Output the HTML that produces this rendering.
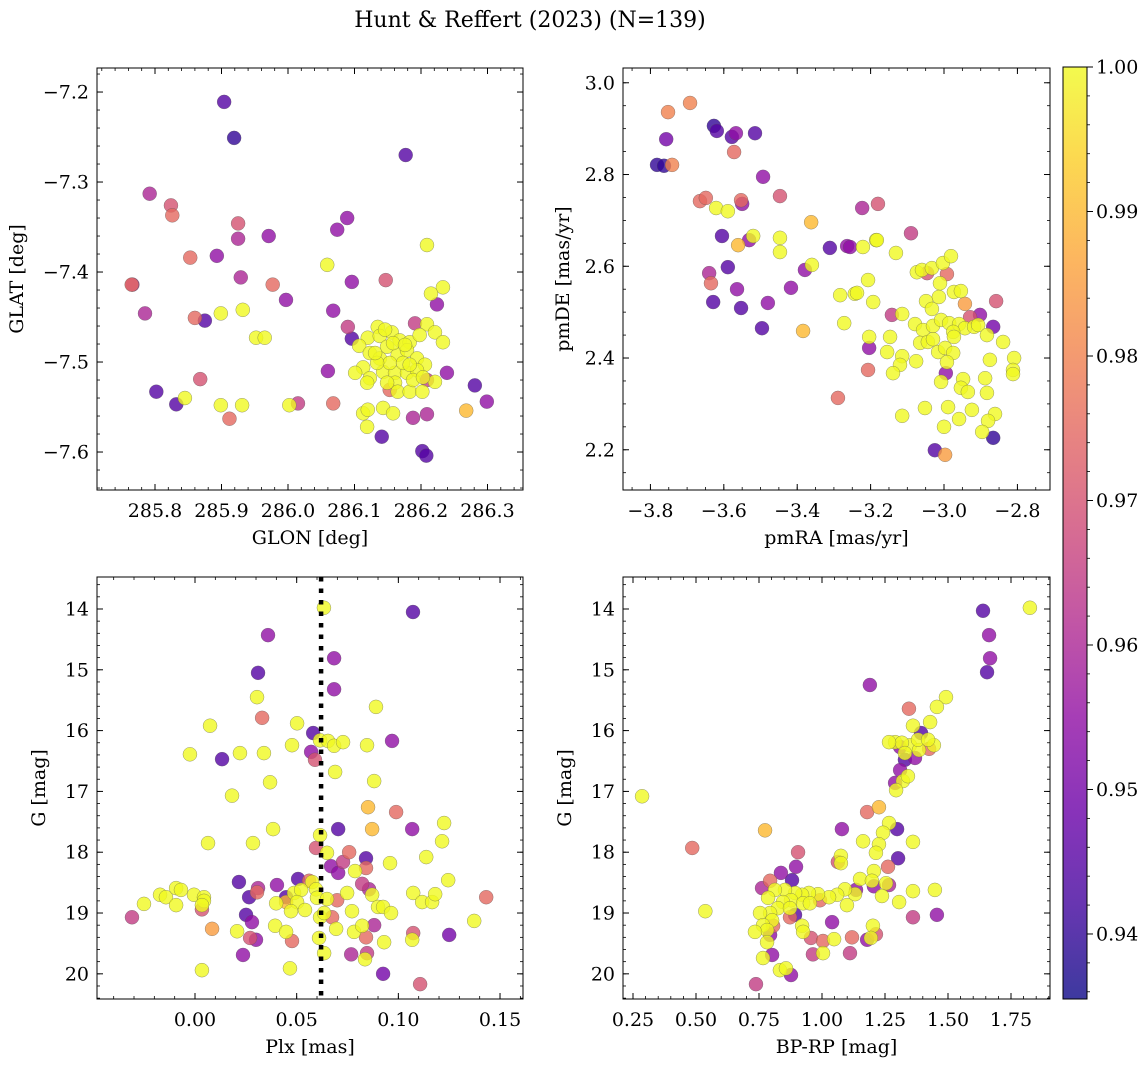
<!DOCTYPE html>
<html><head><meta charset="utf-8"><style>
html,body{margin:0;padding:0;background:#fff;}
svg{display:block;font-family:"DejaVu Serif","Liberation Serif",serif;}
</style></head><body>
<svg id="fig" width="1148" height="1067" viewBox="0 0 1148 1067" xmlns="http://www.w3.org/2000/svg">
<text x="530" y="27" font-size="22" text-anchor="middle">Hunt &amp; Reffert (2023) (N=139)</text>
</svg>
<script>
// ---------- data ----------
const p1Lon=[285.904,285.919,286.177,285.792,285.824,285.826,285.925,286.089,286.074,285.925,285.971,285.893,285.853,286.209,286.059,285.929,285.765,285.766,286.147,286.096,285.977,286.233,286.215,285.997,286.224,285.932,285.785,285.899,285.860,285.875,286.068,286.090,286.096,285.952,285.965,286.191,286.209,286.221,286.233,286.060,286.239,286.281,286.299,286.268,286.068,286.188,286.209,286.113,286.120,286.143,286.158,286.119,286.141,286.202,286.208,285.868,285.802,285.845,285.832,285.899,285.931,286.002,286.015,285.912,286.153,286.209,
286.135,286.156,286.120,286.138,286.168,286.183,286.198,286.107,286.123,286.149,286.165,286.179,286.194,286.206,286.113,286.101,286.123,286.119,286.143,286.161,286.179,286.194,286.138,286.153,286.173,286.161,286.149,286.165,286.183,286.202,286.188,286.221,286.134,286.158,286.176,286.131,286.183,286.203,286.146];
const p1Lat=[-7.211,-7.251,-7.270,-7.313,-7.326,-7.337,-7.346,-7.340,-7.353,-7.363,-7.360,-7.382,-7.384,-7.370,-7.392,-7.406,-7.414,-7.414,-7.409,-7.411,-7.414,-7.417,-7.424,-7.431,-7.436,-7.442,-7.446,-7.446,-7.451,-7.454,-7.443,-7.461,-7.474,-7.473,-7.473,-7.457,-7.458,-7.467,-7.478,-7.510,-7.512,-7.526,-7.544,-7.554,-7.546,-7.562,-7.558,-7.557,-7.553,-7.551,-7.557,-7.572,-7.583,-7.599,-7.604,-7.519,-7.533,-7.540,-7.547,-7.548,-7.548,-7.548,-7.546,-7.563,-7.531,-7.520,
-7.461,-7.467,-7.473,-7.471,-7.476,-7.478,-7.470,-7.482,-7.490,-7.483,-7.492,-7.487,-7.496,-7.503,-7.506,-7.512,-7.518,-7.523,-7.511,-7.512,-7.512,-7.509,-7.496,-7.501,-7.501,-7.523,-7.523,-7.533,-7.533,-7.533,-7.520,-7.522,-7.501,-7.479,-7.481,-7.490,-7.503,-7.517,-7.464];
const p1Prob=[.945,.94,.945,.96,.97,.975,.97,.955,.955,.96,.955,.955,.975,1,1,.96,.975,.96,.97,.955,.975,1,1,.955,.955,1,.96,1,.975,.945,.955,.965,.945,1,1,.965,1,1,1,.955,.955,.945,.955,.99,.975,.96,.96,1,1,1,1,1,.945,.945,.945,.97,.945,1,.945,1,1,1,.965,.975,.975,.965,
1,1,1,1,1,1,1,1,1,1,1,1,1,1,1,1,1,1,1,1,1,1,1,1,1,1,1,1,1,1,1,1,1,1,1,1,1,1,1];

const p2RA=[-3.692,-3.752,-3.757,-3.741,-3.782,-3.763,-3.627,-3.619,-3.567,-3.578,-3.515,-3.572,-3.493,-3.665,-3.649,-3.621,-3.589,-3.553,-3.550,-3.447,-3.223,-3.180,-3.362,-3.605,-3.520,-3.531,-3.447,-3.447,-3.311,-3.264,-3.185,-3.561,-3.640,-3.635,-3.589,-3.360,-3.379,-3.629,-3.564,-3.417,-3.243,-3.283,-3.480,-3.553,-3.496,-3.384,-3.272,-3.289,
-3.256,-3.221,-3.183,-3.090,-3.131,-3.207,-3.237,-3.193,-3.142,-3.114,-3.204,-3.204,-3.207,-3.147,-3.155,-3.114,-3.120,-3.139,-3.076,-3.114,-3.052,-3.074,-3.060,-3.046,-3.033,-3.003,-2.981,-2.992,-3.011,-3.014,-3.049,-3.033,-2.973,-2.954,-2.943,-2.858,-2.902,-2.929,-3.079,-3.057,-3.030,-3.008,-2.986,-2.959,-2.943,-2.918,-2.907,-2.975,-2.973,-3.065,-3.044,-3.030,-2.866,-2.883,-2.839,-3.016,-2.997,-2.975,-2.992,-2.995,-3.008,-2.875,-2.809,-2.812,-2.812,-2.948,-2.954,-2.935,-2.888,-2.883,-2.989,-2.959,-2.924,-3.000,-2.861,-2.880,-2.896,-2.866,-3.025,-2.997];
const p2DE=[2.956,2.936,2.877,2.821,2.821,2.819,2.906,2.895,2.890,2.882,2.890,2.849,2.795,2.742,2.749,2.727,2.720,2.744,2.736,2.753,2.727,2.736,2.696,2.666,2.666,2.657,2.662,2.631,2.640,2.644,2.657,2.646,2.585,2.563,2.598,2.603,2.592,2.522,2.550,2.553,2.540,2.537,2.520,2.509,2.465,2.459,2.476,2.313,
2.642,2.642,2.657,2.672,2.629,2.570,2.542,2.522,2.494,2.496,2.446,2.422,2.374,2.446,2.413,2.404,2.385,2.367,2.393,2.274,2.291,2.587,2.592,2.585,2.596,2.607,2.622,2.583,2.563,2.533,2.524,2.507,2.544,2.546,2.518,2.524,2.494,2.489,2.474,2.461,2.470,2.483,2.476,2.474,2.465,2.468,2.472,2.457,2.446,2.433,2.435,2.441,2.468,2.450,2.435,2.413,2.422,2.411,2.391,2.367,2.348,2.396,2.400,2.374,2.365,2.354,2.335,2.326,2.356,2.324,2.293,2.267,2.287,2.250,2.278,2.263,2.239,2.226,2.199,2.189];
const p2Prob=[.98,.98,.95,.98,.94,.94,.94,.945,.955,.945,.945,.975,.955,.975,.975,1,1,.975,.955,.97,.96,.97,.99,.945,1,.955,1,1,.945,.955,1,.99,.96,.975,.945,1,.955,.945,.955,.955,1,1,.955,.945,.945,.99,1,.975,
.955,1,1,.965,1,1,1,1,.965,1,1,.955,.975,1,1,1,1,1,1,1,1,1,1,.97,1,1,1,.975,1,1,1,1,1,1,.985,.97,.955,.97,1,1,1,1,1,1,1,1,1,1,1,1,1,1,.95,1,1,1,1,1,1,.955,1,1,1,1,1,1,1,1,1,1,1,1,1,1,1,1,1,.94,.945,.985];

const p3Plx=[0.0634,0.1072,0.0359,0.0684,0.0310,0.0684,0.0305,0.0330,0.0890,0.0074,0.0502,0.0581,0.0969,0.0477,0.0615,0.0654,0.0684,0.0728,0.0846,-0.0025,0.0221,0.0339,0.0133,0.0571,0.0590,0.0689,0.0369,0.0881,0.0182,
0.0851,0.0989,0.0704,0.0871,0.1068,0.1225,0.1215,0.0384,0.0064,0.0285,0.0615,0.0595,0.0649,0.0758,0.0841,0.0728,0.0669,0.0841,0.0787,0.0704,0.0959,0.1137,0.1245,0.0216,0.0403,0.0507,0.0561,0.0576,0.0310,0.0305,0.0266,0.0448,0.0448,0.0487,0.0522,0.0502,0.0399,0.0472,0.0541,0.0595,0.0600,0.0649,0.0699,0.0748,0.0822,0.0856,0.0871,0.0900,0.0925,0.0964,0.1073,0.1117,0.1166,0.1181,0.1432,0.1373,-0.0310,-0.0251,-0.0172,-0.0143,-0.0093,-0.0069,-0.0093,-0.0005,0.0044,0.0044,0.0034,0.0034,0.0084,0.0207,0.0251,0.0280,0.0271,0.0300,0.0236,0.0034,0.0394,0.0448,0.0477,0.0467,0.0615,0.0635,0.0674,0.0772,0.0694,0.0782,0.0822,0.0841,0.0881,0.0610,0.0635,0.0768,0.0846,0.0836,0.0930,0.1073,0.1068,0.1250,0.0925,0.1107];
const p3G=[13.98,14.05,14.43,14.81,15.05,15.32,15.45,15.79,15.61,15.92,15.88,16.04,16.17,16.24,16.16,16.17,16.25,16.19,16.24,16.39,16.37,16.37,16.47,16.35,16.48,16.68,16.85,16.83,17.07,
17.26,17.34,17.62,17.62,17.62,17.52,17.82,17.62,17.85,17.85,17.72,17.93,18.01,18.00,18.10,18.16,18.23,18.26,18.31,18.34,18.18,18.08,18.46,18.49,18.54,18.44,18.47,18.49,18.59,18.66,18.74,18.74,18.82,18.67,18.62,18.82,18.84,18.97,18.95,18.61,18.75,18.77,18.79,18.67,18.52,18.61,18.70,18.90,18.90,19.00,18.67,18.82,18.82,18.69,18.74,19.13,19.07,18.85,18.70,18.74,18.59,18.62,18.87,18.70,18.74,18.80,18.87,18.94,19.26,19.30,19.03,19.15,19.41,19.44,19.69,19.94,19.21,19.31,19.46,19.91,19.07,19.00,19.07,18.97,19.26,19.31,19.21,19.40,19.20,19.41,19.66,19.68,19.66,19.76,19.48,19.33,19.44,19.36,20.00,20.17];
const p3Prob=[1,.945,.955,.955,.945,.955,1,.975,1,1,1,.945,.955,1,1,1,1,1,1,1,1,1,.945,.955,.97,1,1,1,1,
.99,.975,.945,.99,.955,1,1,1,1,1,1,.97,1,.975,.945,.965,.955,.975,1,.955,1,1,1,.945,.955,.945,.975,1,.96,.975,.945,.945,.99,1,1,1,1,1,1,1,1,1,.975,1,.965,.96,1,1,1,1,1,1,1,1,.975,1,.965,1,1,1,1,1,1,1,1,1,1,.97,.985,1,.945,.955,.97,.955,.955,1,1,1,.975,1,1,1,.975,1,1,1,1,.975,.96,1,1,.96,.965,1,1,.97,1,.95,.95,.97];
const plxLine=[0.0620];

const p4Col=[1.825,1.639,1.663,1.667,1.655,1.492,1.456,1.345,1.190,1.429,1.361,1.393,1.290,1.349,1.317,1.266,1.425,1.444,1.385,1.329,1.369,1.329,1.310,1.381,1.421,0.286,1.310,1.321,1.341,1.294,1.290,0.485,0.537,1.456,1.448,
0.774,1.179,1.226,1.266,1.298,1.242,1.226,1.214,1.163,1.079,1.361,1.302,1.075,1.063,1.075,0.905,0.897,0.837,0.881,0.794,0.762,1.262,1.206,1.151,1.198,1.206,1.254,1.266,1.361,1.306,1.238,1.361,1.135,1.131,1.091,1.060,1.028,1.099,0.984,0.948,0.992,0.921,0.893,0.853,0.813,0.786,0.877,0.925,0.952,0.845,0.825,0.794,0.754,0.873,0.893,0.873,0.802,0.766,0.806,0.782,0.734,0.794,0.782,0.921,0.925,0.956,1.004,1.048,1.040,1.119,1.202,1.214,1.179,1.194,0.802,0.766,0.964,1.004,1.111,0.833,0.857,0.877,0.738];
const p4G=[13.98,14.03,14.43,14.81,15.04,15.45,15.61,15.64,15.25,15.86,15.92,16.04,16.19,16.24,16.20,16.19,16.30,16.24,16.32,16.37,16.45,16.48,16.27,16.15,16.15,17.08,16.65,16.83,16.75,16.98,16.86,17.93,18.97,19.03,18.62,
17.64,17.34,17.26,17.52,17.62,17.68,17.87,18.01,17.82,17.62,17.83,18.10,18.06,18.16,18.18,18.00,18.24,18.34,18.46,18.47,18.59,18.24,18.31,18.44,18.47,18.56,18.51,18.54,18.64,18.82,18.72,19.07,18.62,18.69,18.61,18.70,18.74,18.87,18.69,18.67,18.79,18.70,18.67,18.62,18.62,18.75,18.79,18.84,18.84,18.82,18.92,19.00,19.00,18.92,19.03,19.07,19.12,19.20,19.21,19.28,19.31,19.36,19.48,19.21,19.31,19.41,19.46,19.43,19.15,19.40,19.21,19.35,19.44,19.41,19.69,19.74,19.68,19.66,19.66,19.94,19.91,20.02,20.17];
const p4Prob=[1,.945,.955,.955,.945,1,1,.975,.955,1,1,.945,1,1,1,1,.975,1,1,1,.955,.945,.955,1,1,1,.955,1,1,1,.955,.975,1,.955,1,
.99,.975,.99,1,.945,1,1,1,1,.955,1,.945,1,.97,1,.97,.955,.955,.945,.975,.96,.975,1,1,1,.955,1,.96,1,1,1,.965,.955,1,1,1,1,1,1,1,.975,1,1,1,1,1,1,1,1,1,1,1,1,1,.945,.975,1,1,.975,1,1,.955,1,1,1,.97,.975,1,.955,.975,1,.97,.955,1,.955,1,.965,1,.965,1,1,.955,.965];

const p1XTicks=[285.8,285.9,286.0,286.1,286.2,286.3];
const p1YTicks=[-7.2,-7.3,-7.4,-7.5,-7.6];
const p2XTicks=[-3.8,-3.6,-3.4,-3.2,-3.0,-2.8];
const p2YTicks=[2.2,2.4,2.6,2.8,3.0];
const p3XTicks=[0.00,0.05,0.10,0.15];
const gTicks=[14,15,16,17,18,19,20];
const p4XTicks=[0.25,0.50,0.75,1.00,1.25,1.50,1.75];
const cbTicks=[0.94,0.95,0.96,0.97,0.98,0.99,1.00];
const vmin=0.9355, vmax=1.0;

// ---------- helpers ----------
const NS='http://www.w3.org/2000/svg';
const svg=document.getElementById('fig');
const FS=19;
function mk(tag,attrs,parent){const e=document.createElementNS(NS,tag);for(const k in attrs)e.setAttribute(k,attrs[k]);(parent||svg).appendChild(e);return e;}
const stops=[[13,8,135],[65,4,157],[106,0,168],[143,13,164],[177,42,144],[204,71,120],[225,100,98],[242,132,75],[252,166,54],[252,206,37],[240,249,33]];
function plasma(t){t=Math.max(0,Math.min(1,t));const f=t*10,i=Math.min(9,Math.floor(f)),r=f-i;const a=stops[i],b=stops[i+1];return 'rgb('+a.map((v,k)=>Math.round(v+(b[k]-v)*r)).join(',')+')';}
function fmt(v,d){const s=Math.abs(v).toFixed(d);return (v<-1e-9?'\u2212':'')+s;}

function panel(name,box,xd,yd,xt,xdec,xminor,yt,ydec,yminor,xlabel,ylabel,ylx){
  const [x0,y0,x1,y1]=box;
  const sx=v=>x0+(v-xd[0])/(xd[1]-xd[0])*(x1-x0);
  const sy=v=>y1-(v-yd[0])/(yd[1]-yd[0])*(y1-y0);
  const g=mk('g',{});
  
  
  const xs=Math.ceil(xd[0]/xminor-1e-6), xe=Math.floor(xd[1]/xminor+1e-6);
  for(let k=xs;k<=xe;k++){const X=sx(k*xminor);
    mk('line',{x1:X,y1:y1,x2:X,y2:y1-3,stroke:'#000','stroke-width':0.8},g);
    mk('line',{x1:X,y1:y0,x2:X,y2:y0+3,stroke:'#000','stroke-width':0.8},g);}
  const lo=Math.min(yd[0],yd[1]),hi=Math.max(yd[0],yd[1]);
  const ys=Math.ceil(lo/yminor-1e-6), ye=Math.floor(hi/yminor+1e-6);
  for(let k=ys;k<=ye;k++){const Y=sy(k*yminor);
    mk('line',{x1:x0,y1:Y,x2:x0+3,y2:Y,stroke:'#000','stroke-width':0.8},g);
    mk('line',{x1:x1,y1:Y,x2:x1-3,y2:Y,stroke:'#000','stroke-width':0.8},g);}
  xt.forEach(v=>{const X=sx(v);
    mk('line',{x1:X,y1:y1,x2:X,y2:y1-6,stroke:'#000','stroke-width':1},g);
    mk('line',{x1:X,y1:y0,x2:X,y2:y0+6,stroke:'#000','stroke-width':1},g);
    const t=mk('text',{x:X,y:y1+27,'font-size':FS,'text-anchor':'middle'},g);t.textContent=fmt(v,xdec);
    
    });
  yt.forEach(v=>{const Y=sy(v);
    mk('line',{x1:x0,y1:Y,x2:x0+6,y2:Y,stroke:'#000','stroke-width':1},g);
    mk('line',{x1:x1,y1:Y,x2:x1-6,y2:Y,stroke:'#000','stroke-width':1},g);
    const t=mk('text',{x:x0-8,y:Y+6.5,'font-size':FS,'text-anchor':'end'},g);t.textContent=fmt(v,ydec);
    
    });
  mk('rect',{x:x0,y:y0,width:x1-x0,height:y1-y0,fill:'none',stroke:'#000','stroke-width':1},g);
  const xl=mk('text',{x:(x0+x1)/2,y:y1+54,'font-size':FS,'text-anchor':'middle'},g);xl.textContent=xlabel;
  
  
  const yc=(y0+y1)/2;
  const yl=mk('text',{x:ylx,y:yc,'font-size':FS,'text-anchor':'middle',transform:'rotate(-90 '+ylx+' '+yc+')'},g);yl.textContent=ylabel;
  
  
  return {g,sx,sy,box};
}
function scatter(p,xs,ys,ps,label){
  const cg=mk('g',{});
  
  
  const idx=xs.map((_,i)=>i).sort((a,b)=>ps[a]-ps[b]);
  idx.forEach(i=>{
    const c=mk('circle',{cx:p.sx(xs[i]),cy:p.sy(ys[i]),r:7,fill:plasma((ps[i]-vmin)/(vmax-vmin)),'fill-opacity':0.8,stroke:'#555','stroke-opacity':0.6,'stroke-width':0.5},cg);
    
    
  });
}

// ---------- panels ----------
const P1=panel('panel-glon-glat',[97,68,523,490],[285.7128,286.3534],[-7.6422,-7.1733],p1XTicks,1,0.02,p1YTicks,1,0.02,'GLON [deg]','GLAT [deg]',23);
scatter(P1,p1Lon,p1Lat,p1Prob,'scatter-sky');
const P2=panel('panel-proper-motion',[623,68,1050,490],[-3.8747,-2.7112],[2.1123,3.0322],p2XTicks,1,0.05,p2YTicks,1,0.05,'pmRA [mas/yr]','pmDE [mas/yr]',569);
scatter(P2,p2RA,p2DE,p2Prob,'scatter-pm');
const P3=panel('panel-parallax-mag',[97,577,523,999],[-0.0482,0.1613],[20.414,13.474],p3XTicks,2,0.01,gTicks,0,0.2,'Plx [mas]','G [mag]',45);
scatter(P3,p3Plx,p3G,p3Prob,'scatter-plx');
plxLine.forEach(v=>{const X=P3.sx(v);
  const l=mk('line',{x1:X,y1:577,x2:X,y2:999,stroke:'#000','stroke-width':4.5,'stroke-dasharray':'4.5,7'});
  
  });
const P4=panel('panel-cmd',[623,577,1050,999],[0.2103,1.9048],[20.414,13.474],p4XTicks,2,0.05,gTicks,0,0.2,'BP-RP [mag]','G [mag]',571);
scatter(P4,p4Col,p4G,p4Prob,'scatter-cmd');

// ---------- colorbar ----------
const defs=mk('defs',{});
const lg=mk('linearGradient',{id:'cbg',x1:0,y1:1,x2:0,y2:0},defs);
for(let k=0;k<=20;k++){mk('stop',{offset:(k/20),'stop-color':plasma(k/20),'stop-opacity':0.8},lg);}
const cb=mk('g',{});


const cx0=1063,cx1=1087,cy0=67,cy1=999;
mk('rect',{x:cx0,y:cy0,width:cx1-cx0,height:cy1-cy0,fill:'url(#cbg)'},cb);
const cby=v=>cy1-(v-vmin)/(vmax-vmin)*(cy1-cy0);
for(let k=Math.ceil(vmin/0.002);k<=Math.floor(vmax/0.002+1e-6);k++){const Y=cby(k*0.002);mk('line',{x1:cx1,y1:Y,x2:cx1+3,y2:Y,stroke:'#000','stroke-width':0.8},cb);}
cbTicks.forEach(v=>{const Y=cby(v);
  mk('line',{x1:cx1,y1:Y,x2:cx1+6,y2:Y,stroke:'#000','stroke-width':1},cb);
  const t=mk('text',{x:cx1+9,y:Y+6.5,'font-size':FS},cb);t.textContent=v.toFixed(2);
  
  });
mk('rect',{x:cx0,y:cy0,width:cx1-cx0,height:cy1-cy0,fill:'none',stroke:'#000','stroke-width':1},cb);
</script>
</body></html>
